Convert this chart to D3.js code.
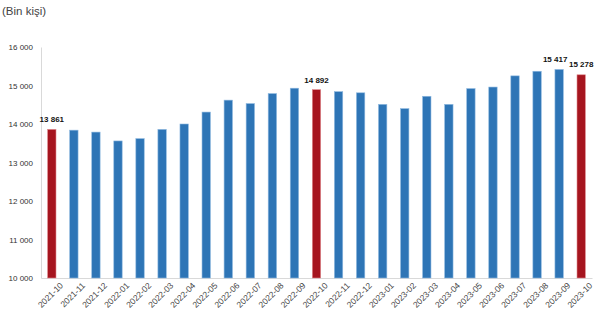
<!DOCTYPE html>
<html>
<head>
<meta charset="utf-8">
<script src="https://cdn.jsdelivr.net/npm/d3@7"></script>
<style>
  html, body { margin: 0; padding: 0; background: #fff; }
  svg { display: block; font-family: "Liberation Sans", Arial, sans-serif; }
</style>
</head>
<body>
<svg id="chart" width="600" height="327"></svg>
<script>
// Monthly figures, thousands of people
const months = [
  "2021-10","2021-11","2021-12","2022-01","2022-02","2022-03","2022-04","2022-05",
  "2022-06","2022-07","2022-08","2022-09","2022-10","2022-11","2022-12","2023-01",
  "2023-02","2023-03","2023-04","2023-05","2023-06","2023-07","2023-08","2023-09","2023-10"
];
const values = [
  13861, 13840, 13790, 13560, 13620, 13860, 14000, 14310,
  14620, 14530, 14790, 14930, 14892, 14840, 14810, 14510,
  14400, 14720, 14510, 14920, 14960, 15250, 15370, 15417, 15278
];
// October bars are highlighted and carry a value label
const highlighted = ["2021-10", "2022-10", "2023-10"];
const labelled = ["2021-10", "2022-10", "2023-09", "2023-10"];
const yTicks = [10000, 11000, 12000, 13000, 14000, 15000, 16000];

const svg = d3.select("#chart");
const margin = { left: 41, right: 8, top: 47, bottom: 49 };
const W = 600, H = 327;

const x = d3.scaleBand()
  .domain(months)
  .range([margin.left, W - margin.right])
  .paddingInner(0.62)
  .paddingOuter(0.3);

const y = d3.scaleLinear()
  .domain([10000, 16000])
  .range([H - margin.bottom, margin.top]);

const fmt = v => d3.format(",")(v).replace(/,/g, " ");

// unit caption
svg.append("text")
  .attr("x", 2).attr("y", 15)
  .attr("font-size", 11.5)
  .attr("fill", "#444")
  .text("(Bin kişi)");

// y axis
const yAxis = svg.append("g")
  .attr("transform", `translate(${margin.left},0)`)
  .call(d3.axisLeft(y).tickValues(yTicks).tickFormat(fmt).tickSize(0).tickPadding(8));
yAxis.select(".domain").attr("stroke", "#d9d9d9");
yAxis.selectAll("text").attr("font-size", 8).attr("fill", "#333");

// x axis
const xAxis = svg.append("g")
  .attr("transform", `translate(0,${y(10000)})`)
  .call(d3.axisBottom(x).tickSize(0).tickPadding(9));
xAxis.select(".domain").attr("stroke", "#d9d9d9");
xAxis.selectAll("text")
  .attr("font-size", 8.5)
  .attr("fill", "#444")
  .attr("text-anchor", "end")
  .attr("dx", "0.3em")
  .attr("dy", "0.6em")
  .attr("transform", "rotate(-45)");

// bars
svg.append("g").selectAll("rect")
  .data(months)
  .join("rect")
  .attr("x", (d) => x(d))
  .attr("width", x.bandwidth())
  .attr("y", (d, i) => y(values[i]))
  .attr("height", (d, i) => y(10000) - y(values[i]))
  .attr("fill", d => highlighted.includes(d) ? "#a6151f" : "#2e75b6")
  .attr("stroke", d => highlighted.includes(d) ? "#e08a8f" : "#8fb9e0")
  .attr("stroke-width", 0.6);

// value labels
svg.append("g").selectAll("text")
  .data(months.filter(m => labelled.includes(m)))
  .join("text")
  .attr("x", d => x(d) + x.bandwidth() / 2 + (d === "2023-09" ? -4 : 0))
  .attr("y", d => y(values[months.indexOf(d)]) - (d === "2023-10" ? 8 : 7))
  .attr("text-anchor", "middle")
  .attr("font-size", 8)
  .attr("font-weight", "bold")
  .attr("fill", "#111")
  .text(d => fmt(values[months.indexOf(d)]));
</script>
</body>
</html>
